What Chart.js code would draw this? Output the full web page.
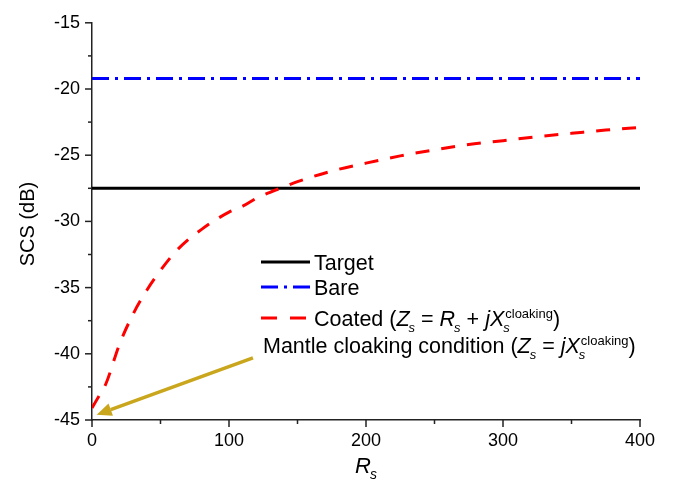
<!DOCTYPE html>
<html><head><meta charset="utf-8">
<script src="https://cdn.jsdelivr.net/npm/chart.js@4/dist/chart.umd.min.js"></script>
<style>html,body{margin:0;padding:0;background:#fff}#wrap{width:677px;height:480px}</style>
</head><body><div id="wrap"><canvas id="c" width="677" height="480"></canvas></div>
<script>
// ---- data ----
const rsValues   = [0, 5, 10, 20, 30, 40, 50, 60, 70, 80, 90, 100, 110, 120, 130, 140, 150, 175, 200, 225, 250, 275, 300, 325, 350, 375, 400];
const coatedSCS  = [-44.1, -43.2, -42.3, -39.3, -37.0, -35.2, -33.7, -32.4, -31.4, -30.6, -29.9, -29.3, -28.85, -28.25, -27.8, -27.4, -27.0, -26.2, -25.6, -25.05, -24.6, -24.2, -23.9, -23.6, -23.35, -23.1, -22.9];
const rsRange    = [0, 400];
const targetSCS  = [-27.5, -27.5];
const bareSCS    = [-19.2, -19.2];
const xTickLabels = [0, 100, 200, 300, 400];
const yTickLabels = [-45, -40, -35, -30, -25, -20, -15];
const seriesNames = ['Target', 'Bare', 'Coated'];
// annotation arrow (data units): tail -> head
const arrowTail = [117.5, -40.3];
const arrowHead = [3.4, -44.6];

const FAM = '"Liberation Sans", Arial, Helvetica, sans-serif';
const toPts = (xs, ys) => xs.map((x, i) => ({x: x, y: ys[i]}));

function drawRich(ctx, x, y, parts, size) {
  const small = Math.round(size * 0.62);
  ctx.textBaseline = 'alphabetic'; ctx.textAlign = 'left';
  for (const p of parts) {
    if (Array.isArray(p)) {
      ctx.font = (p[1] ? 'italic ' : '') + size + 'px ' + FAM;
      ctx.fillText(p[0], x, y); x += ctx.measureText(p[0]).width;
    } else {
      let w = 0;
      if (p.sub) { ctx.font = 'italic ' + small + 'px ' + FAM; ctx.fillText(p.sub, x - 1, y + size * 0.27); w = Math.max(w, ctx.measureText(p.sub).width - 1); }
      if (p.sup) { ctx.font = small + 'px ' + FAM; ctx.fillText(p.sup, x + 1, y - size * 0.38); w = Math.max(w, ctx.measureText(p.sup).width + 1); }
      x += w;
    }
  }
  return x;
}

const extras = {
  id: 'extras',
  afterDraw(chart) {
    const ctx = chart.ctx, xs = chart.scales.x, ys = chart.scales.y, ca = chart.chartArea;
    ctx.save();
    // ticks
    ctx.strokeStyle = '#222'; ctx.lineWidth = 1.5;
    xs.ticks.forEach(t => {
      const px = xs.getPixelForValue(t.value), len = (Math.abs(t.value % 100) < 1e-6) ? 7 : 4;
      ctx.beginPath(); ctx.moveTo(px, ca.bottom); ctx.lineTo(px, ca.bottom + len); ctx.stroke();
    });
    ys.ticks.forEach(t => {
      const py = ys.getPixelForValue(t.value), len = (Math.abs(t.value % 5) < 1e-6) ? 7 : 4;
      ctx.beginPath(); ctx.moveTo(ca.left, py); ctx.lineTo(ca.left - len, py); ctx.stroke();
    });
    // axis titles
    ctx.fillStyle = '#000';
    ctx.save();
    ctx.translate(28, 224); ctx.rotate(-Math.PI / 2);
    ctx.font = '20px ' + FAM; ctx.textAlign = 'center'; ctx.textBaseline = 'middle';
    ctx.fillText('SCS (dB)', 0, 0);
    ctx.restore();
    drawRich(ctx, (ca.left + ca.right) / 2 - 11, 473, [['R', 1], {sub: 's'}], 22);

    // legend
    const lx0 = 261, lx1 = 310, tx = 314;
    const rows = [262, 287, 318];
    const styles = [
      {c: '#000', d: []}, {c: '#0000FF', d: [17, 6, 3, 6]}, {c: '#FF0000', d: [16, 13]}
    ];
    rows.forEach((yy, i) => {
      ctx.strokeStyle = styles[i].c; ctx.lineWidth = 3; ctx.setLineDash(styles[i].d);
      ctx.beginPath(); ctx.moveTo(lx0, yy); ctx.lineTo(lx1, yy); ctx.stroke();
    });
    ctx.setLineDash([]);
    ctx.fillStyle = '#000';
    const fs = 21.5, off = fs * 0.36;
    drawRich(ctx, tx, rows[0] + off, [[seriesNames[0], 0]], fs);
    drawRich(ctx, tx, rows[1] + off, [[seriesNames[1], 0]], fs);
    drawRich(ctx, tx, rows[2] + off, [[seriesNames[2] + ' (', 0], ['Z', 1], {sub: 's'}, [' = ', 0], ['R', 1], {sub: 's'}, [' + ', 0], ['jX', 1], {sub: 's', sup: 'cloaking'}, [')', 0]], fs);
    drawRich(ctx, 263, 353, [['Mantle cloaking condition (', 0], ['Z', 1], {sub: 's'}, [' = ', 0], ['jX', 1], {sub: 's', sup: 'cloaking'}, [')', 0]], fs);

    // arrow
    const ax0 = xs.getPixelForValue(arrowTail[0]), ay0 = ys.getPixelForValue(arrowTail[1]);
    const ax1 = xs.getPixelForValue(arrowHead[0]), ay1 = ys.getPixelForValue(arrowHead[1]);
    const ang = Math.atan2(ay1 - ay0, ax1 - ax0), hl = 15, hw = 6.5;
    const bx = ax1 - hl * Math.cos(ang), by = ay1 - hl * Math.sin(ang);
    ctx.strokeStyle = '#C9A61B'; ctx.fillStyle = '#C9A61B'; ctx.lineWidth = 3.5;
    ctx.beginPath(); ctx.moveTo(ax0, ay0); ctx.lineTo(bx, by); ctx.stroke();
    ctx.beginPath(); ctx.moveTo(ax1, ay1);
    ctx.lineTo(bx + hw * Math.sin(ang), by - hw * Math.cos(ang));
    ctx.lineTo(bx - hw * Math.sin(ang), by + hw * Math.cos(ang));
    ctx.closePath(); ctx.fill();
    ctx.restore();
  }
};

new Chart(document.getElementById('c'), {
  type: 'line',
  data: {
    datasets: [
      {label: seriesNames[2], data: toPts(rsValues, coatedSCS), borderColor: '#FF0000', borderWidth: 3, borderDash: [14, 12], pointRadius: 0, cubicInterpolationMode: 'monotone', fill: false},
      {label: seriesNames[1], data: toPts(rsRange, bareSCS), borderColor: '#0000FF', borderWidth: 3, borderDash: [17, 6, 3, 6], pointRadius: 0, fill: false},
      {label: seriesNames[0], data: toPts(rsRange, targetSCS), borderColor: '#000000', borderWidth: 3, pointRadius: 0, fill: false}
    ]
  },
  options: {
    responsive: false, animation: false, devicePixelRatio: 1,
    layout: {padding: {top: 16, right: 37, left: 0, bottom: 0}},
    plugins: {legend: {display: false}, tooltip: {enabled: false}},
    scales: {
      x: {
        type: 'linear', min: rsRange[0], max: rsRange[1],
        afterFit: s => { s.height = 60; },
        ticks: {stepSize: 50, autoSkip: false, maxRotation: 0, padding: 10, color: '#000', font: {size: 18, family: FAM},
          callback: v => xTickLabels.includes(v) ? String(v) : ''},
        grid: {drawOnChartArea: false, drawTicks: false},
        border: {display: true, color: '#222', width: 1.5}
      },
      y: {
        type: 'linear', min: yTickLabels[0], max: yTickLabels[yTickLabels.length - 1],
        afterFit: s => { s.width = 92; },
        ticks: {stepSize: 2.5, autoSkip: false, padding: 12, color: '#000', font: {size: 18, family: FAM},
          callback: v => yTickLabels.includes(v) ? String(v) : ''},
        grid: {drawOnChartArea: false, drawTicks: false},
        border: {display: true, color: '#222', width: 1.5}
      }
    }
  },
  plugins: [extras]
});
</script>
</body></html>
